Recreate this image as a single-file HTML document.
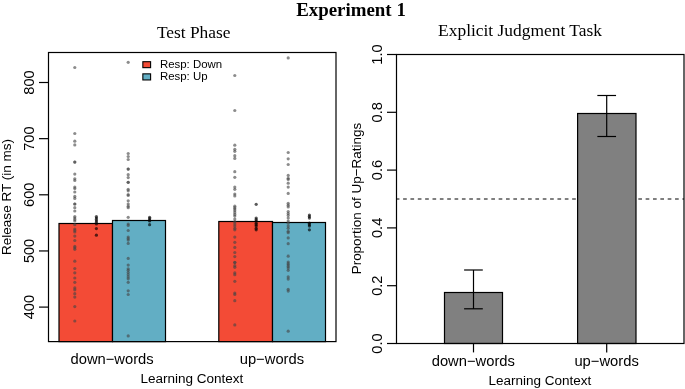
<!DOCTYPE html>
<html><head><meta charset="utf-8"><style>
html,body{margin:0;padding:0;background:#fff;overflow:hidden;}
svg{display:block;will-change:transform;}
</style></head><body>
<svg width="685" height="389" viewBox="0 0 685 389">
<rect width="685" height="389" fill="#fff"/>
<rect x="59" y="223.5" width="53.5" height="118.1" fill="#f34b36" stroke="#000" stroke-width="1.2"/>
<rect x="112.5" y="220.5" width="53" height="121.1" fill="#62aec4" stroke="#000" stroke-width="1.2"/>
<rect x="218.8" y="221.5" width="53.7" height="120.1" fill="#f34b36" stroke="#000" stroke-width="1.2"/>
<rect x="272.5" y="222.5" width="53" height="119.1" fill="#62aec4" stroke="#000" stroke-width="1.2"/>
<circle cx="74.8" cy="67.5" r="1.6" fill="rgba(70,70,70,0.62)"/>
<circle cx="74.8" cy="133.5" r="1.6" fill="rgba(70,70,70,0.62)"/>
<circle cx="74.8" cy="141.2" r="1.6" fill="rgba(70,70,70,0.62)"/>
<circle cx="74.8" cy="144.9" r="1.6" fill="rgba(70,70,70,0.62)"/>
<circle cx="74.8" cy="162.1" r="1.6" fill="rgba(70,70,70,0.62)"/>
<circle cx="74.8" cy="162.1" r="1.6" fill="rgba(70,70,70,0.62)"/>
<circle cx="74.8" cy="174.1" r="1.6" fill="rgba(70,70,70,0.62)"/>
<circle cx="74.8" cy="178.8" r="1.6" fill="rgba(70,70,70,0.62)"/>
<circle cx="74.8" cy="180.5" r="1.6" fill="rgba(70,70,70,0.62)"/>
<circle cx="74.8" cy="187.1" r="1.6" fill="rgba(70,70,70,0.62)"/>
<circle cx="74.8" cy="188.6" r="1.6" fill="rgba(70,70,70,0.62)"/>
<circle cx="74.8" cy="192" r="1.6" fill="rgba(70,70,70,0.62)"/>
<circle cx="74.8" cy="196.4" r="1.6" fill="rgba(70,70,70,0.62)"/>
<circle cx="74.8" cy="198.4" r="1.6" fill="rgba(70,70,70,0.62)"/>
<circle cx="74.8" cy="204" r="1.6" fill="rgba(70,70,70,0.62)"/>
<circle cx="74.8" cy="204" r="1.6" fill="rgba(70,70,70,0.62)"/>
<circle cx="74.8" cy="207.7" r="1.6" fill="rgba(70,70,70,0.62)"/>
<circle cx="74.8" cy="211" r="1.6" fill="rgba(70,70,70,0.62)"/>
<circle cx="74.8" cy="216.6" r="1.6" fill="rgba(70,70,70,0.62)"/>
<circle cx="74.8" cy="218" r="1.6" fill="rgba(70,70,70,0.62)"/>
<circle cx="74.8" cy="219.5" r="1.6" fill="rgba(70,70,70,0.62)"/>
<circle cx="74.8" cy="221" r="1.6" fill="rgba(70,70,70,0.62)"/>
<circle cx="74.8" cy="224.7" r="1.6" fill="rgba(70,70,70,0.62)"/>
<circle cx="74.8" cy="229" r="1.6" fill="rgba(70,70,70,0.62)"/>
<circle cx="74.8" cy="230.5" r="1.6" fill="rgba(70,70,70,0.62)"/>
<circle cx="74.8" cy="232" r="1.6" fill="rgba(70,70,70,0.62)"/>
<circle cx="74.8" cy="236.1" r="1.6" fill="rgba(70,70,70,0.62)"/>
<circle cx="74.8" cy="240.5" r="1.6" fill="rgba(70,70,70,0.62)"/>
<circle cx="74.8" cy="246.4" r="1.6" fill="rgba(70,70,70,0.62)"/>
<circle cx="74.8" cy="247.8" r="1.6" fill="rgba(70,70,70,0.62)"/>
<circle cx="74.8" cy="249.3" r="1.6" fill="rgba(70,70,70,0.62)"/>
<circle cx="74.8" cy="261.2" r="1.6" fill="rgba(70,70,70,0.62)"/>
<circle cx="74.8" cy="268.5" r="1.6" fill="rgba(70,70,70,0.62)"/>
<circle cx="74.8" cy="272.8" r="1.6" fill="rgba(70,70,70,0.62)"/>
<circle cx="74.8" cy="278" r="1.6" fill="rgba(70,70,70,0.62)"/>
<circle cx="74.8" cy="282.3" r="1.6" fill="rgba(70,70,70,0.62)"/>
<circle cx="74.8" cy="287.9" r="1.6" fill="rgba(70,70,70,0.62)"/>
<circle cx="74.8" cy="289.8" r="1.6" fill="rgba(70,70,70,0.62)"/>
<circle cx="74.8" cy="293.7" r="1.6" fill="rgba(70,70,70,0.62)"/>
<circle cx="74.8" cy="297.1" r="1.6" fill="rgba(70,70,70,0.62)"/>
<circle cx="74.8" cy="306.6" r="1.6" fill="rgba(70,70,70,0.62)"/>
<circle cx="74.8" cy="321" r="1.6" fill="rgba(70,70,70,0.62)"/>
<circle cx="96.4" cy="216.6" r="1.6" fill="rgba(0,0,0,0.65)"/>
<circle cx="96.4" cy="218" r="1.6" fill="rgba(0,0,0,0.65)"/>
<circle cx="96.4" cy="219.5" r="1.6" fill="rgba(0,0,0,0.65)"/>
<circle cx="96.4" cy="221" r="1.6" fill="rgba(0,0,0,0.65)"/>
<circle cx="96.4" cy="222.5" r="1.6" fill="rgba(0,0,0,0.65)"/>
<circle cx="96.4" cy="224" r="1.6" fill="rgba(0,0,0,0.65)"/>
<circle cx="96.4" cy="228.6" r="1.6" fill="rgba(0,0,0,0.65)"/>
<circle cx="96.4" cy="235.2" r="1.6" fill="rgba(0,0,0,0.65)"/>
<circle cx="128.2" cy="62.3" r="1.6" fill="rgba(70,70,70,0.62)"/>
<circle cx="128.2" cy="153.5" r="1.6" fill="rgba(70,70,70,0.62)"/>
<circle cx="128.2" cy="156.5" r="1.6" fill="rgba(70,70,70,0.62)"/>
<circle cx="128.2" cy="159.5" r="1.6" fill="rgba(70,70,70,0.62)"/>
<circle cx="128.2" cy="169.1" r="1.6" fill="rgba(70,70,70,0.62)"/>
<circle cx="128.2" cy="169.1" r="1.6" fill="rgba(70,70,70,0.62)"/>
<circle cx="128.2" cy="174.7" r="1.6" fill="rgba(70,70,70,0.62)"/>
<circle cx="128.2" cy="177.6" r="1.6" fill="rgba(70,70,70,0.62)"/>
<circle cx="128.2" cy="182.3" r="1.6" fill="rgba(70,70,70,0.62)"/>
<circle cx="128.2" cy="182.3" r="1.6" fill="rgba(70,70,70,0.62)"/>
<circle cx="128.2" cy="189.3" r="1.6" fill="rgba(70,70,70,0.62)"/>
<circle cx="128.2" cy="190.8" r="1.6" fill="rgba(70,70,70,0.62)"/>
<circle cx="128.2" cy="194.5" r="1.6" fill="rgba(70,70,70,0.62)"/>
<circle cx="128.2" cy="195.5" r="1.6" fill="rgba(70,70,70,0.62)"/>
<circle cx="128.2" cy="200.8" r="1.6" fill="rgba(70,70,70,0.62)"/>
<circle cx="128.2" cy="204" r="1.6" fill="rgba(70,70,70,0.62)"/>
<circle cx="128.2" cy="206.2" r="1.6" fill="rgba(70,70,70,0.62)"/>
<circle cx="128.2" cy="207.7" r="1.6" fill="rgba(70,70,70,0.62)"/>
<circle cx="128.2" cy="217.3" r="1.6" fill="rgba(70,70,70,0.62)"/>
<circle cx="128.2" cy="224" r="1.6" fill="rgba(70,70,70,0.62)"/>
<circle cx="128.2" cy="225.4" r="1.6" fill="rgba(70,70,70,0.62)"/>
<circle cx="128.2" cy="230.5" r="1.6" fill="rgba(70,70,70,0.62)"/>
<circle cx="128.2" cy="237.1" r="1.6" fill="rgba(70,70,70,0.62)"/>
<circle cx="128.2" cy="238.6" r="1.6" fill="rgba(70,70,70,0.62)"/>
<circle cx="128.2" cy="240.1" r="1.6" fill="rgba(70,70,70,0.62)"/>
<circle cx="128.2" cy="243.4" r="1.6" fill="rgba(70,70,70,0.62)"/>
<circle cx="128.2" cy="258.4" r="1.6" fill="rgba(70,70,70,0.62)"/>
<circle cx="128.2" cy="265.1" r="1.6" fill="rgba(70,70,70,0.62)"/>
<circle cx="128.2" cy="268.8" r="1.6" fill="rgba(70,70,70,0.62)"/>
<circle cx="128.2" cy="270.3" r="1.6" fill="rgba(70,70,70,0.62)"/>
<circle cx="128.2" cy="272.5" r="1.6" fill="rgba(70,70,70,0.62)"/>
<circle cx="128.2" cy="274.7" r="1.6" fill="rgba(70,70,70,0.62)"/>
<circle cx="128.2" cy="276.9" r="1.6" fill="rgba(70,70,70,0.62)"/>
<circle cx="128.2" cy="278.8" r="1.6" fill="rgba(70,70,70,0.62)"/>
<circle cx="128.2" cy="282.3" r="1.6" fill="rgba(70,70,70,0.62)"/>
<circle cx="128.2" cy="290.8" r="1.6" fill="rgba(70,70,70,0.62)"/>
<circle cx="128.2" cy="294.5" r="1.6" fill="rgba(70,70,70,0.62)"/>
<circle cx="128.2" cy="335.9" r="1.6" fill="rgba(70,70,70,0.62)"/>
<circle cx="149.6" cy="217.3" r="1.6" fill="rgba(0,0,0,0.65)"/>
<circle cx="149.6" cy="218.5" r="1.6" fill="rgba(0,0,0,0.65)"/>
<circle cx="149.6" cy="220" r="1.6" fill="rgba(0,0,0,0.65)"/>
<circle cx="149.6" cy="221" r="1.6" fill="rgba(0,0,0,0.65)"/>
<circle cx="149.6" cy="224.7" r="1.6" fill="rgba(0,0,0,0.65)"/>
<circle cx="234.8" cy="75.5" r="1.6" fill="rgba(70,70,70,0.62)"/>
<circle cx="234.8" cy="110.5" r="1.6" fill="rgba(70,70,70,0.62)"/>
<circle cx="234.8" cy="145.2" r="1.6" fill="rgba(70,70,70,0.62)"/>
<circle cx="234.8" cy="149.3" r="1.6" fill="rgba(70,70,70,0.62)"/>
<circle cx="234.8" cy="151.3" r="1.6" fill="rgba(70,70,70,0.62)"/>
<circle cx="234.8" cy="155.7" r="1.6" fill="rgba(70,70,70,0.62)"/>
<circle cx="234.8" cy="158.4" r="1.6" fill="rgba(70,70,70,0.62)"/>
<circle cx="234.8" cy="171.7" r="1.6" fill="rgba(70,70,70,0.62)"/>
<circle cx="234.8" cy="177.3" r="1.6" fill="rgba(70,70,70,0.62)"/>
<circle cx="234.8" cy="187.1" r="1.6" fill="rgba(70,70,70,0.62)"/>
<circle cx="234.8" cy="189.3" r="1.6" fill="rgba(70,70,70,0.62)"/>
<circle cx="234.8" cy="194" r="1.6" fill="rgba(70,70,70,0.62)"/>
<circle cx="234.8" cy="195.9" r="1.6" fill="rgba(70,70,70,0.62)"/>
<circle cx="234.8" cy="206.2" r="1.6" fill="rgba(70,70,70,0.62)"/>
<circle cx="234.8" cy="207.7" r="1.6" fill="rgba(70,70,70,0.62)"/>
<circle cx="234.8" cy="209.1" r="1.6" fill="rgba(70,70,70,0.62)"/>
<circle cx="234.8" cy="210.7" r="1.6" fill="rgba(70,70,70,0.62)"/>
<circle cx="234.8" cy="212.7" r="1.6" fill="rgba(70,70,70,0.62)"/>
<circle cx="234.8" cy="214.5" r="1.6" fill="rgba(70,70,70,0.62)"/>
<circle cx="234.8" cy="216.1" r="1.6" fill="rgba(70,70,70,0.62)"/>
<circle cx="234.8" cy="219.1" r="1.6" fill="rgba(70,70,70,0.62)"/>
<circle cx="234.8" cy="221.7" r="1.6" fill="rgba(70,70,70,0.62)"/>
<circle cx="234.8" cy="223.9" r="1.6" fill="rgba(70,70,70,0.62)"/>
<circle cx="234.8" cy="226.1" r="1.6" fill="rgba(70,70,70,0.62)"/>
<circle cx="234.8" cy="228.3" r="1.6" fill="rgba(70,70,70,0.62)"/>
<circle cx="234.8" cy="229.8" r="1.6" fill="rgba(70,70,70,0.62)"/>
<circle cx="234.8" cy="237.1" r="1.6" fill="rgba(70,70,70,0.62)"/>
<circle cx="234.8" cy="242.3" r="1.6" fill="rgba(70,70,70,0.62)"/>
<circle cx="234.8" cy="247.4" r="1.6" fill="rgba(70,70,70,0.62)"/>
<circle cx="234.8" cy="252.5" r="1.6" fill="rgba(70,70,70,0.62)"/>
<circle cx="234.8" cy="256.6" r="1.6" fill="rgba(70,70,70,0.62)"/>
<circle cx="234.8" cy="262.3" r="1.6" fill="rgba(70,70,70,0.62)"/>
<circle cx="234.8" cy="262.6" r="1.6" fill="rgba(70,70,70,0.62)"/>
<circle cx="234.8" cy="265.7" r="1.6" fill="rgba(70,70,70,0.62)"/>
<circle cx="234.8" cy="267.3" r="1.6" fill="rgba(70,70,70,0.62)"/>
<circle cx="234.8" cy="272.9" r="1.6" fill="rgba(70,70,70,0.62)"/>
<circle cx="234.8" cy="274.7" r="1.6" fill="rgba(70,70,70,0.62)"/>
<circle cx="234.8" cy="281.3" r="1.6" fill="rgba(70,70,70,0.62)"/>
<circle cx="234.8" cy="293" r="1.6" fill="rgba(70,70,70,0.62)"/>
<circle cx="234.8" cy="294.5" r="1.6" fill="rgba(70,70,70,0.62)"/>
<circle cx="234.8" cy="300.7" r="1.6" fill="rgba(70,70,70,0.62)"/>
<circle cx="234.8" cy="324.9" r="1.6" fill="rgba(70,70,70,0.62)"/>
<circle cx="256.2" cy="204.3" r="1.6" fill="rgba(0,0,0,0.65)"/>
<circle cx="256.2" cy="218.1" r="1.6" fill="rgba(0,0,0,0.65)"/>
<circle cx="256.2" cy="219.5" r="1.6" fill="rgba(0,0,0,0.65)"/>
<circle cx="256.2" cy="221" r="1.6" fill="rgba(0,0,0,0.65)"/>
<circle cx="256.2" cy="223.2" r="1.6" fill="rgba(0,0,0,0.65)"/>
<circle cx="256.2" cy="224.7" r="1.6" fill="rgba(0,0,0,0.65)"/>
<circle cx="256.2" cy="226.1" r="1.6" fill="rgba(0,0,0,0.65)"/>
<circle cx="256.2" cy="228.3" r="1.6" fill="rgba(0,0,0,0.65)"/>
<circle cx="256.2" cy="229.8" r="1.6" fill="rgba(0,0,0,0.65)"/>
<circle cx="288.2" cy="57.9" r="1.6" fill="rgba(70,70,70,0.62)"/>
<circle cx="288.2" cy="152.5" r="1.6" fill="rgba(70,70,70,0.62)"/>
<circle cx="288.2" cy="158.8" r="1.6" fill="rgba(70,70,70,0.62)"/>
<circle cx="288.2" cy="164.5" r="1.6" fill="rgba(70,70,70,0.62)"/>
<circle cx="288.2" cy="175.4" r="1.6" fill="rgba(70,70,70,0.62)"/>
<circle cx="288.2" cy="178.3" r="1.6" fill="rgba(70,70,70,0.62)"/>
<circle cx="288.2" cy="179.4" r="1.6" fill="rgba(70,70,70,0.62)"/>
<circle cx="288.2" cy="183.2" r="1.6" fill="rgba(70,70,70,0.62)"/>
<circle cx="288.2" cy="187.1" r="1.6" fill="rgba(70,70,70,0.62)"/>
<circle cx="288.2" cy="193.4" r="1.6" fill="rgba(70,70,70,0.62)"/>
<circle cx="288.2" cy="203.3" r="1.6" fill="rgba(70,70,70,0.62)"/>
<circle cx="288.2" cy="205.2" r="1.6" fill="rgba(70,70,70,0.62)"/>
<circle cx="288.2" cy="206.9" r="1.6" fill="rgba(70,70,70,0.62)"/>
<circle cx="288.2" cy="211.6" r="1.6" fill="rgba(70,70,70,0.62)"/>
<circle cx="288.2" cy="213.5" r="1.6" fill="rgba(70,70,70,0.62)"/>
<circle cx="288.2" cy="215.4" r="1.6" fill="rgba(70,70,70,0.62)"/>
<circle cx="288.2" cy="218.1" r="1.6" fill="rgba(70,70,70,0.62)"/>
<circle cx="288.2" cy="221" r="1.6" fill="rgba(70,70,70,0.62)"/>
<circle cx="288.2" cy="223.2" r="1.6" fill="rgba(70,70,70,0.62)"/>
<circle cx="288.2" cy="226.1" r="1.6" fill="rgba(70,70,70,0.62)"/>
<circle cx="288.2" cy="228.3" r="1.6" fill="rgba(70,70,70,0.62)"/>
<circle cx="288.2" cy="231.3" r="1.6" fill="rgba(70,70,70,0.62)"/>
<circle cx="288.2" cy="232.7" r="1.6" fill="rgba(70,70,70,0.62)"/>
<circle cx="288.2" cy="237.9" r="1.6" fill="rgba(70,70,70,0.62)"/>
<circle cx="288.2" cy="243.7" r="1.6" fill="rgba(70,70,70,0.62)"/>
<circle cx="288.2" cy="256.2" r="1.6" fill="rgba(70,70,70,0.62)"/>
<circle cx="288.2" cy="262.1" r="1.6" fill="rgba(70,70,70,0.62)"/>
<circle cx="288.2" cy="263.7" r="1.6" fill="rgba(70,70,70,0.62)"/>
<circle cx="288.2" cy="265.1" r="1.6" fill="rgba(70,70,70,0.62)"/>
<circle cx="288.2" cy="266.6" r="1.6" fill="rgba(70,70,70,0.62)"/>
<circle cx="288.2" cy="268.1" r="1.6" fill="rgba(70,70,70,0.62)"/>
<circle cx="288.2" cy="270.3" r="1.6" fill="rgba(70,70,70,0.62)"/>
<circle cx="288.2" cy="276.9" r="1.6" fill="rgba(70,70,70,0.62)"/>
<circle cx="288.2" cy="279.1" r="1.6" fill="rgba(70,70,70,0.62)"/>
<circle cx="288.2" cy="289.3" r="1.6" fill="rgba(70,70,70,0.62)"/>
<circle cx="288.2" cy="291.1" r="1.6" fill="rgba(70,70,70,0.62)"/>
<circle cx="288.2" cy="331.2" r="1.6" fill="rgba(70,70,70,0.62)"/>
<circle cx="309.4" cy="215.1" r="1.6" fill="rgba(0,0,0,0.65)"/>
<circle cx="309.4" cy="216.6" r="1.6" fill="rgba(0,0,0,0.65)"/>
<circle cx="309.4" cy="218.1" r="1.6" fill="rgba(0,0,0,0.65)"/>
<circle cx="309.4" cy="223.2" r="1.6" fill="rgba(0,0,0,0.65)"/>
<circle cx="309.4" cy="224.7" r="1.6" fill="rgba(0,0,0,0.65)"/>
<circle cx="309.4" cy="226.1" r="1.6" fill="rgba(0,0,0,0.65)"/>
<circle cx="309.4" cy="229.8" r="1.6" fill="rgba(0,0,0,0.65)"/>
<rect x="48.5" y="52.5" width="287.5" height="289.1" fill="none" stroke="#000" stroke-width="1.2"/>
<line x1="39" y1="307.1" x2="48.5" y2="307.1" stroke="#000" stroke-width="1.2"/>
<text transform="translate(33.6,307.1) rotate(-90)" font-family="Liberation Sans" font-weight="normal" font-size="14.6" text-anchor="middle" fill="#000">400</text>
<line x1="39" y1="250.95" x2="48.5" y2="250.95" stroke="#000" stroke-width="1.2"/>
<text transform="translate(33.6,250.95) rotate(-90)" font-family="Liberation Sans" font-weight="normal" font-size="14.6" text-anchor="middle" fill="#000">500</text>
<line x1="39" y1="194.8" x2="48.5" y2="194.8" stroke="#000" stroke-width="1.2"/>
<text transform="translate(33.6,194.8) rotate(-90)" font-family="Liberation Sans" font-weight="normal" font-size="14.6" text-anchor="middle" fill="#000">600</text>
<line x1="39" y1="138.65" x2="48.5" y2="138.65" stroke="#000" stroke-width="1.2"/>
<text transform="translate(33.6,138.65) rotate(-90)" font-family="Liberation Sans" font-weight="normal" font-size="14.6" text-anchor="middle" fill="#000">700</text>
<line x1="39" y1="82.5" x2="48.5" y2="82.5" stroke="#000" stroke-width="1.2"/>
<text transform="translate(33.6,82.5) rotate(-90)" font-family="Liberation Sans" font-weight="normal" font-size="14.6" text-anchor="middle" fill="#000">800</text>
<rect x="142.85" y="61.7" width="7.75" height="5.95" fill="#f34b36" stroke="#000" stroke-width="1.1"/>
<rect x="142.85" y="73.85" width="7.75" height="6.1" fill="#62aec4" stroke="#000" stroke-width="1.1"/>
<line x1="396.5" y1="199" x2="684" y2="199" stroke="#000" stroke-width="1" stroke-dasharray="3.675 3.675" stroke-dashoffset="0.75"/>
<rect x="444.5" y="292.5" width="58" height="51" fill="#808080" stroke="#000" stroke-width="1.2"/>
<rect x="577.6" y="113.5" width="58.4" height="230" fill="#808080" stroke="#000" stroke-width="1.2"/>
<line x1="473.5" y1="270" x2="473.5" y2="308.8" stroke="#000" stroke-width="1.2"/>
<line x1="464.1" y1="270" x2="482.8" y2="270" stroke="#000" stroke-width="1.2"/>
<line x1="464.1" y1="308.8" x2="482.8" y2="308.8" stroke="#000" stroke-width="1.2"/>
<line x1="606.7" y1="95.5" x2="606.7" y2="136.5" stroke="#000" stroke-width="1.2"/>
<line x1="597.35" y1="95.5" x2="616.05" y2="95.5" stroke="#000" stroke-width="1.2"/>
<line x1="597.35" y1="136.5" x2="616.05" y2="136.5" stroke="#000" stroke-width="1.2"/>
<rect x="396.5" y="54.5" width="287.5" height="289" fill="none" stroke="#000" stroke-width="1.2"/>
<line x1="387" y1="343.5" x2="396.5" y2="343.5" stroke="#000" stroke-width="1.2"/>
<text transform="translate(381.5,343.5) rotate(-90)" font-family="Liberation Sans" font-weight="normal" font-size="14.6" text-anchor="middle" fill="#000">0.0</text>
<line x1="387" y1="285.7" x2="396.5" y2="285.7" stroke="#000" stroke-width="1.2"/>
<text transform="translate(381.5,285.7) rotate(-90)" font-family="Liberation Sans" font-weight="normal" font-size="14.6" text-anchor="middle" fill="#000">0.2</text>
<line x1="387" y1="227.9" x2="396.5" y2="227.9" stroke="#000" stroke-width="1.2"/>
<text transform="translate(381.5,227.9) rotate(-90)" font-family="Liberation Sans" font-weight="normal" font-size="14.6" text-anchor="middle" fill="#000">0.4</text>
<line x1="387" y1="170.1" x2="396.5" y2="170.1" stroke="#000" stroke-width="1.2"/>
<text transform="translate(381.5,170.1) rotate(-90)" font-family="Liberation Sans" font-weight="normal" font-size="14.6" text-anchor="middle" fill="#000">0.6</text>
<line x1="387" y1="112.3" x2="396.5" y2="112.3" stroke="#000" stroke-width="1.2"/>
<text transform="translate(381.5,112.3) rotate(-90)" font-family="Liberation Sans" font-weight="normal" font-size="14.6" text-anchor="middle" fill="#000">0.8</text>
<line x1="387" y1="54.5" x2="396.5" y2="54.5" stroke="#000" stroke-width="1.2"/>
<text transform="translate(381.5,54.5) rotate(-90)" font-family="Liberation Sans" font-weight="normal" font-size="14.6" text-anchor="middle" fill="#000">1.0</text>
<line x1="473.5" y1="343.5" x2="473.5" y2="352.4" stroke="#000" stroke-width="1.2"/>
<line x1="606.7" y1="343.5" x2="606.7" y2="352.4" stroke="#000" stroke-width="1.2"/>
<text x="351" y="16" font-family="Liberation Serif" font-weight="bold" font-size="18.9" text-anchor="middle" fill="#000">Experiment 1</text>
<text x="193.7" y="38" font-family="Liberation Serif" font-weight="normal" font-size="17.39" text-anchor="middle" fill="#000">Test Phase</text>
<text x="520" y="36" font-family="Liberation Serif" font-weight="normal" font-size="17.41" text-anchor="middle" fill="#000">Explicit Judgment Task</text>
<text transform="translate(159.9,68) scale(1.06,1)" font-family="Liberation Sans" font-weight="normal" font-size="10.8" text-anchor="start" fill="#000">Resp: Down</text>
<text transform="translate(159.9,80.4) scale(1.06,1)" font-family="Liberation Sans" font-weight="normal" font-size="10.8" text-anchor="start" fill="#000">Resp: Up</text>
<text x="112.1" y="364" font-family="Liberation Sans" font-weight="normal" font-size="14.75" text-anchor="middle" fill="#000">down−words</text>
<text x="271.9" y="364" font-family="Liberation Sans" font-weight="normal" font-size="14.75" text-anchor="middle" fill="#000">up−words</text>
<text x="191.9" y="383" font-family="Liberation Sans" font-weight="normal" font-size="13.52" text-anchor="middle" fill="#000">Learning Context</text>
<text x="473.3" y="365.6" font-family="Liberation Sans" font-weight="normal" font-size="14.75" text-anchor="middle" fill="#000">down−words</text>
<text x="606.6" y="365.6" font-family="Liberation Sans" font-weight="normal" font-size="14.75" text-anchor="middle" fill="#000">up−words</text>
<text x="539.9" y="385" font-family="Liberation Sans" font-weight="normal" font-size="13.52" text-anchor="middle" fill="#000">Learning Context</text>
<text transform="translate(10.5,196.96) rotate(-90)" font-family="Liberation Sans" font-weight="normal" font-size="13.54" text-anchor="middle" fill="#000">Release RT (in ms)</text>
<text transform="translate(361,198.6) rotate(-90)" font-family="Liberation Sans" font-weight="normal" font-size="13.46" text-anchor="middle" fill="#000">Proportion of Up−Ratings</text>
</svg>
</body></html>
